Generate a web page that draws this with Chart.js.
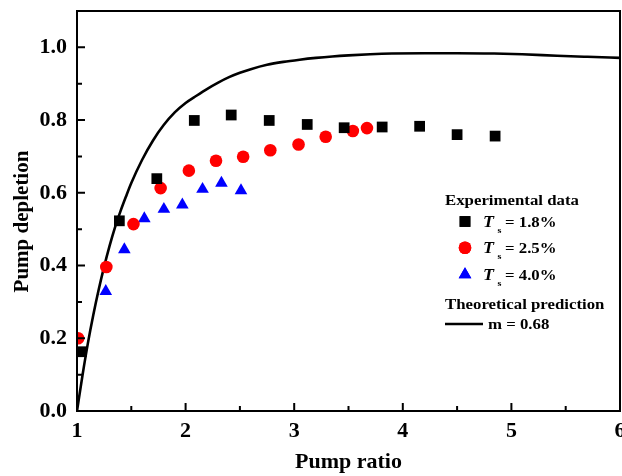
<!DOCTYPE html>
<html><head><meta charset="utf-8">
<script src="https://cdn.jsdelivr.net/npm/chart.js@4/dist/chart.umd.min.js"></script>
<style>html,body{margin:0;padding:0;background:#fff;overflow:hidden}#wrap{width:622px;height:476px;position:relative}</style>
</head><body><div id="wrap"><canvas id="c" width="622" height="476"></canvas></div>
<script>
// ---- data ----
const X_TICKS = [1, 2, 3, 4, 5, 6];
const Y_TICKS = [0, 0.2, 0.4, 0.6, 0.8, 1.0];
const X_LABEL = 'Pump ratio';
const Y_LABEL = 'Pump depletion';

const ts18_x = [1.04, 1.39, 1.735, 2.08, 2.42, 2.77, 3.12, 3.46, 3.81, 4.155, 4.50, 4.85];
const ts18_y = [0.163, 0.523, 0.639, 0.799, 0.814, 0.799, 0.788, 0.779, 0.781, 0.783, 0.760, 0.756];

const ts25_x = [1.01, 1.27, 1.52, 1.77, 2.03, 2.28, 2.53, 2.78, 3.04, 3.29, 3.54, 3.67];
const ts25_y = [0.200, 0.396, 0.514, 0.613, 0.661, 0.688, 0.699, 0.717, 0.733, 0.754, 0.770, 0.778];

const ts40_x = [1.265, 1.436, 1.62, 1.80, 1.97, 2.156, 2.33, 2.51];
const ts40_y = [0.329, 0.444, 0.529, 0.555, 0.567, 0.610, 0.627, 0.606];

const theory_x = [1.00, 1.05, 1.10, 1.15, 1.20, 1.25, 1.30, 1.35, 1.40, 1.45, 1.50, 1.60, 1.70, 1.80, 1.90, 2.00, 2.10, 2.20, 2.30, 2.40, 2.50, 2.60, 2.75, 2.90, 3.05, 3.20, 3.35, 3.50, 3.70, 3.90, 4.20, 4.50, 4.84, 5.10, 5.42, 5.70, 6.00];
const theory_y = [0.000, 0.097, 0.186, 0.264, 0.334, 0.397, 0.454, 0.505, 0.549, 0.589, 0.627, 0.691, 0.744, 0.787, 0.821, 0.847, 0.867, 0.886, 0.903, 0.918, 0.930, 0.940, 0.952, 0.960, 0.966, 0.971, 0.975, 0.978, 0.981, 0.983, 0.984, 0.984, 0.983, 0.981, 0.977, 0.974, 0.971];

const LEGEND_HEAD_EXP = 'Experimental data';
const LEGEND_HEAD_TH = 'Theoretical prediction';
const SERIES_VALUES = ['= 1.8%', '= 2.5%', '= 4.0%'];
const THEORY_LABEL = 'm = 0.68';

// ---- drawing ----
const SERIF = '"Liberation Serif", "Times New Roman", serif';
const pts = (xs, ys) => xs.map((x, i) => ({x: x, y: ys[i]}));
const STYLES = [
  {pointStyle: 'rect', radius: 7.6, color: '#000000'},
  {pointStyle: 'circle', radius: 6.3, color: '#ff0000'},
  {pointStyle: 'triangle', radius: 7.3, color: '#0000ff'}
];

const framePlugin = {
  id: 'frame',
  afterDatasetsDraw(chart) {
    const {ctx, chartArea: a, scales: {x, y}} = chart;
    ctx.save();
    ctx.strokeStyle = '#000';
    ctx.lineWidth = 2;
    ctx.strokeRect(a.left, a.top, a.right - a.left, a.bottom - a.top);
    ctx.beginPath();
    for (let i = 0; i <= 10; i++) {
      const v = x.min + i * 0.5;
      const px = x.getPixelForValue(v);
      const len = (i % 2 === 0) ? 8 : 5;
      ctx.moveTo(px, a.bottom); ctx.lineTo(px, a.bottom - len);
    }
    for (let i = 0; i <= 10; i++) {
      const v = i * 0.1;
      const py = y.getPixelForValue(v);
      const len = (i % 2 === 0) ? 8 : 5;
      ctx.moveTo(a.left, py); ctx.lineTo(a.left + len, py);
    }
    ctx.stroke();
    ctx.restore();
  },
  afterDraw(chart) {
    const ctx = chart.ctx;
    const SX = 1.12;
    const txt = (t, x, y, font) => {
      ctx.save();
      ctx.font = font;
      ctx.translate(x, y);
      ctx.scale(SX, 1);
      ctx.fillText(t, 0, 0);
      ctx.restore();
    };
    ctx.save();
    ctx.fillStyle = '#000';
    ctx.textBaseline = 'alphabetic';
    ctx.textAlign = 'left';
    const bold = 'bold 15px ' + SERIF;
    txt(LEGEND_HEAD_EXP, 445, 205, bold);
    const rows = [221.5, 247.7, 274.5];
    rows.forEach((ry, i) => {
      const s = STYLES[i];
      ctx.fillStyle = s.color;
      ctx.strokeStyle = s.color;
      Chart.helpers.drawPoint(ctx, {pointStyle: s.pointStyle, radius: s.radius, rotation: 0, borderWidth: 0}, 465, ry);
      ctx.fill();
      ctx.fillStyle = '#000';
      txt('T', 483, ry + 5.3, 'italic bold 16px ' + SERIF);
      txt('s', 497.5, ry + 11.5, 'bold 9px ' + SERIF);
      txt(SERIES_VALUES[i], 505, ry + 5.3, bold);
    });
    txt(LEGEND_HEAD_TH, 445, 308.5, bold);
    ctx.strokeStyle = '#000';
    ctx.lineWidth = 2.6;
    ctx.beginPath(); ctx.moveTo(445, 324); ctx.lineTo(483, 324); ctx.stroke();
    txt(THEORY_LABEL, 488, 329, bold);
    ctx.restore();
  }
};

const sc = (s) => ({
  pointStyle: s.pointStyle, pointRadius: s.radius, pointHoverRadius: s.radius,
  backgroundColor: s.color, borderColor: s.color, borderWidth: 0, pointBorderWidth: 0
});

new Chart(document.getElementById('c'), {
  type: 'scatter',
  data: {
    datasets: [
      Object.assign({label: 'Ts = 1.8%', data: pts(ts18_x, ts18_y)}, sc(STYLES[0])),
      Object.assign({label: 'Ts = 2.5%', data: pts(ts25_x, ts25_y)}, sc(STYLES[1])),
      Object.assign({label: 'Ts = 4.0%', data: pts(ts40_x, ts40_y)}, sc(STYLES[2])),
      {label: THEORY_LABEL, type: 'line', data: pts(theory_x, theory_y), borderColor: '#000',
       backgroundColor: '#000', borderWidth: 2.6, pointRadius: 0, showLine: true, fill: false,
       cubicInterpolationMode: 'monotone'}
    ]
  },
  options: {
    responsive: false, animation: false, devicePixelRatio: 1,
    layout: {padding: {top: 11, right: 2, left: 0, bottom: 0}, autoPadding: false},
    plugins: {legend: {display: false}, tooltip: {enabled: false}},
    scales: {
      x: {
        type: 'linear', min: 1, max: 6,
        afterBuildTicks: s => { s.ticks = X_TICKS.map(v => ({value: v})); },
        afterFit: s => { s.height = 65; s.paddingLeft = 0; s.paddingRight = 0; },
        grid: {display: false, drawTicks: false}, border: {display: false},
        ticks: {color: '#000', font: {family: SERIF, size: 22, weight: 'bold'}, padding: 7, maxRotation: 0, autoSkip: false,
                callback: v => String(v)},
        title: {display: true, text: X_LABEL, color: '#000', font: {family: SERIF, size: 22, weight: 'bold', lineHeight: 1.2}, padding: {top: 0, bottom: 0}}
      },
      y: {
        type: 'linear', min: 0, max: 1.1,
        afterBuildTicks: s => { s.ticks = Y_TICKS.map(v => ({value: v})); },
        afterFit: s => { s.width = 77; s.paddingTop = 0; s.paddingBottom = 0; },
        grid: {display: false, drawTicks: false}, border: {display: false},
        ticks: {color: '#000', font: {family: SERIF, size: 22, weight: 'bold'}, padding: 10, autoSkip: false,
                callback: v => Number(v).toFixed(1)},
        title: {display: true, text: Y_LABEL + '    ', color: '#000', font: {family: SERIF, size: 21, weight: 'bold', lineHeight: 1.2}, padding: {top: 10, bottom: 0}}
      }
    }
  },
  plugins: [framePlugin]
});
</script>
</body></html>
